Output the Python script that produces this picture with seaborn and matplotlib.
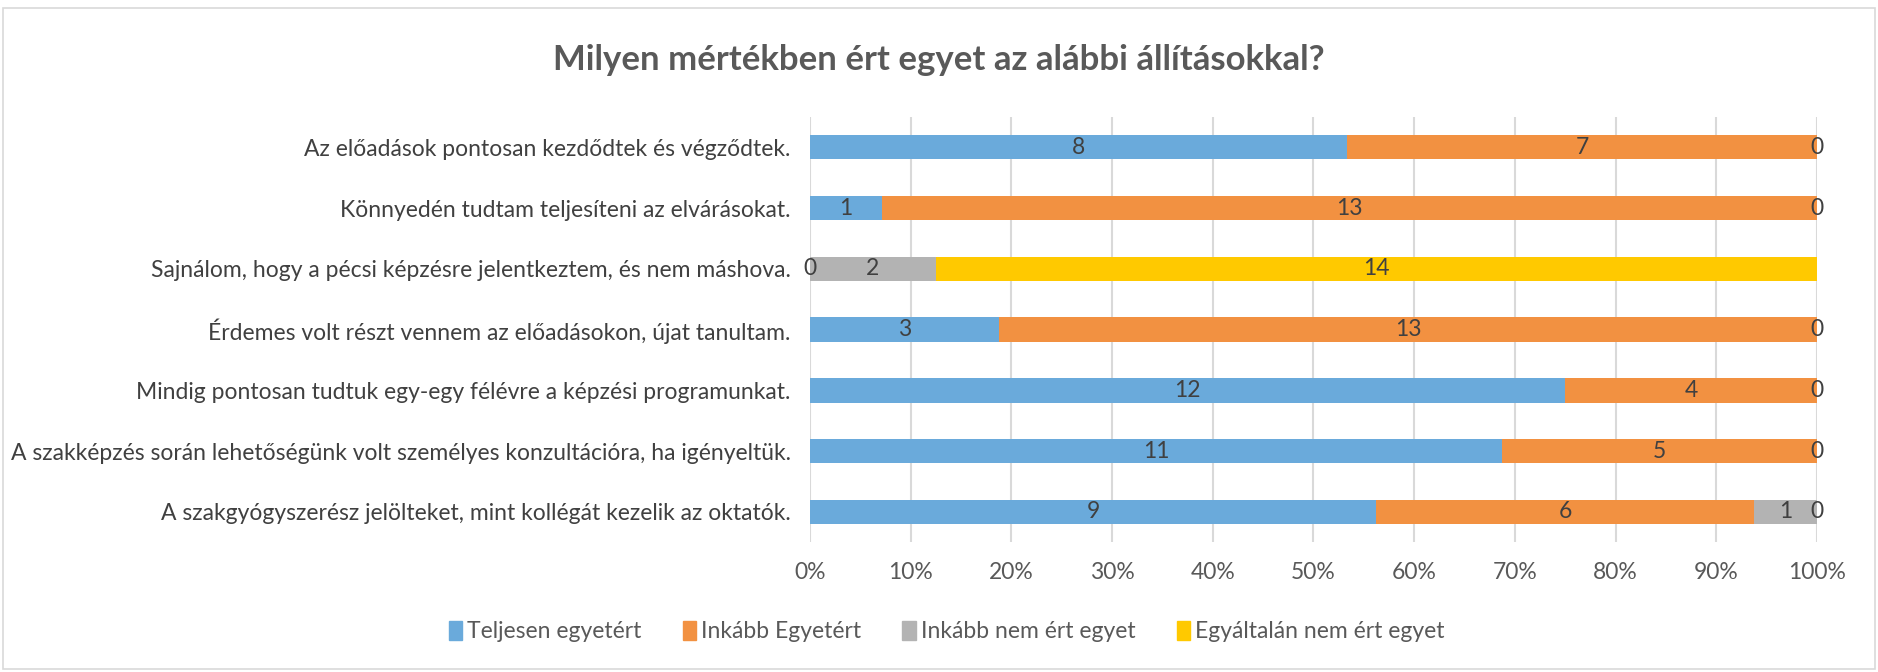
import numpy as np
import pandas as pd
import matplotlib.pyplot as plt
import matplotlib.patches as mpatches
import seaborn as sns

# Data (blank cells = NaN, no label shown)
statements = [
    "Az előadások pontosan kezdődtek és végződtek.",
    "Könnyedén tudtam teljesíteni az elvárásokat.",
    "Sajnálom, hogy a pécsi képzésre jelentkeztem, és nem máshova.",
    "Érdemes volt részt vennem az előadásokon, újat tanultam.",
    "Mindig pontosan tudtuk egy-egy félévre a képzési programunkat.",
    "A szakképzés során lehetőségünk volt személyes konzultációra, ha igényeltük.",
    "A szakgyógyszerész jelölteket, mint kollégát kezelik az oktatók.",
]
series_names = ["Teljesen egyetért", "Inkább Egyetért", "Inkább nem ért egyet", "Egyáltalán nem ért egyet"]
teljesen = [8, 1, np.nan, 3, 12, 11, 9]
inkabb = [7, 13, 0, 13, 4, 5, 6]
inkabb_nem = [0, 0, 2, 0, 0, 0, 1]
egyaltalan = [np.nan, np.nan, 14, np.nan, np.nan, np.nan, 0]
colors = ["#6aaadb", "#f29141", "#b3b3b3", "#ffc900"]

df = pd.DataFrame({n: v for n, v in zip(series_names, [teljesen, inkabb, inkabb_nem, egyaltalan])},
                  index=statements)
vals = df.fillna(0)
pct = vals.div(vals.sum(axis=1), axis=0) * 100
cum = pct.cumsum(axis=1)

sns.set_style("white")
plt.rcParams['font.family'] = ['Lato', 'DejaVu Sans']

fig = plt.figure(figsize=(18.78, 6.72), dpi=100)
fig.patches.append(mpatches.Rectangle((3 / 1878, 3 / 672), 1872 / 1878, 661 / 672,
                                      transform=fig.transFigure, fill=False,
                                      edgecolor="#d9d9d9", linewidth=1.2))
ax = fig.add_axes([0.4313, 0.193, 0.5362, 0.633])

# stacked bars: draw cumulative totals from last series to first
for name, col in reversed(list(zip(series_names, colors))):
    sns.barplot(x=cum[name].values, y=statements, orient="h", color=col,
                width=0.4, ax=ax, linewidth=0, saturation=1)

# data labels centred in each segment
for i, st in enumerate(statements):
    for name in series_names:
        v = df.loc[st, name]
        if np.isnan(v):
            continue
        xc = cum.loc[st, name] - pct.loc[st, name] / 2
        ax.text(xc, i, f"{int(v)}", ha="center", va="center", fontsize=16.5, color="#404040")

ax.set_xlim(0, 100)
ax.set_ylim(6.5, -0.5)
ax.set_xticks(np.arange(0, 101, 10))
ax.set_xticklabels([f"{t}%" for t in range(0, 101, 10)], fontsize=16.5, color="#595959")
ax.tick_params(axis="y", labelsize=16.5, labelcolor="#404040", length=0, pad=14)
ax.tick_params(axis="x", length=0, pad=14)
ax.xaxis.grid(True, color="#d9d9d9", linewidth=1.5)
ax.set_axisbelow(True)
ax.set_xlabel("")
ax.set_ylabel("")
for s in ax.spines.values():
    s.set_visible(False)

fig.text(0.5, 0.91, "Milyen mértékben ért egyet az alábbi állításokkal?",
         ha="center", va="center", fontsize=25, fontweight="bold", color="#595959")

handles = [mpatches.Patch(color=c, label=n) for n, c in zip(series_names, colors)]
fig.legend(handles=handles, loc="center", bbox_to_anchor=(0.504, 0.06), ncol=4,
           frameon=False, fontsize=16.5, handlelength=0.6, handleheight=0.9,
           handletextpad=0.2, columnspacing=1.8, labelcolor="#595959")

plt.savefig("out.png", dpi=100)
